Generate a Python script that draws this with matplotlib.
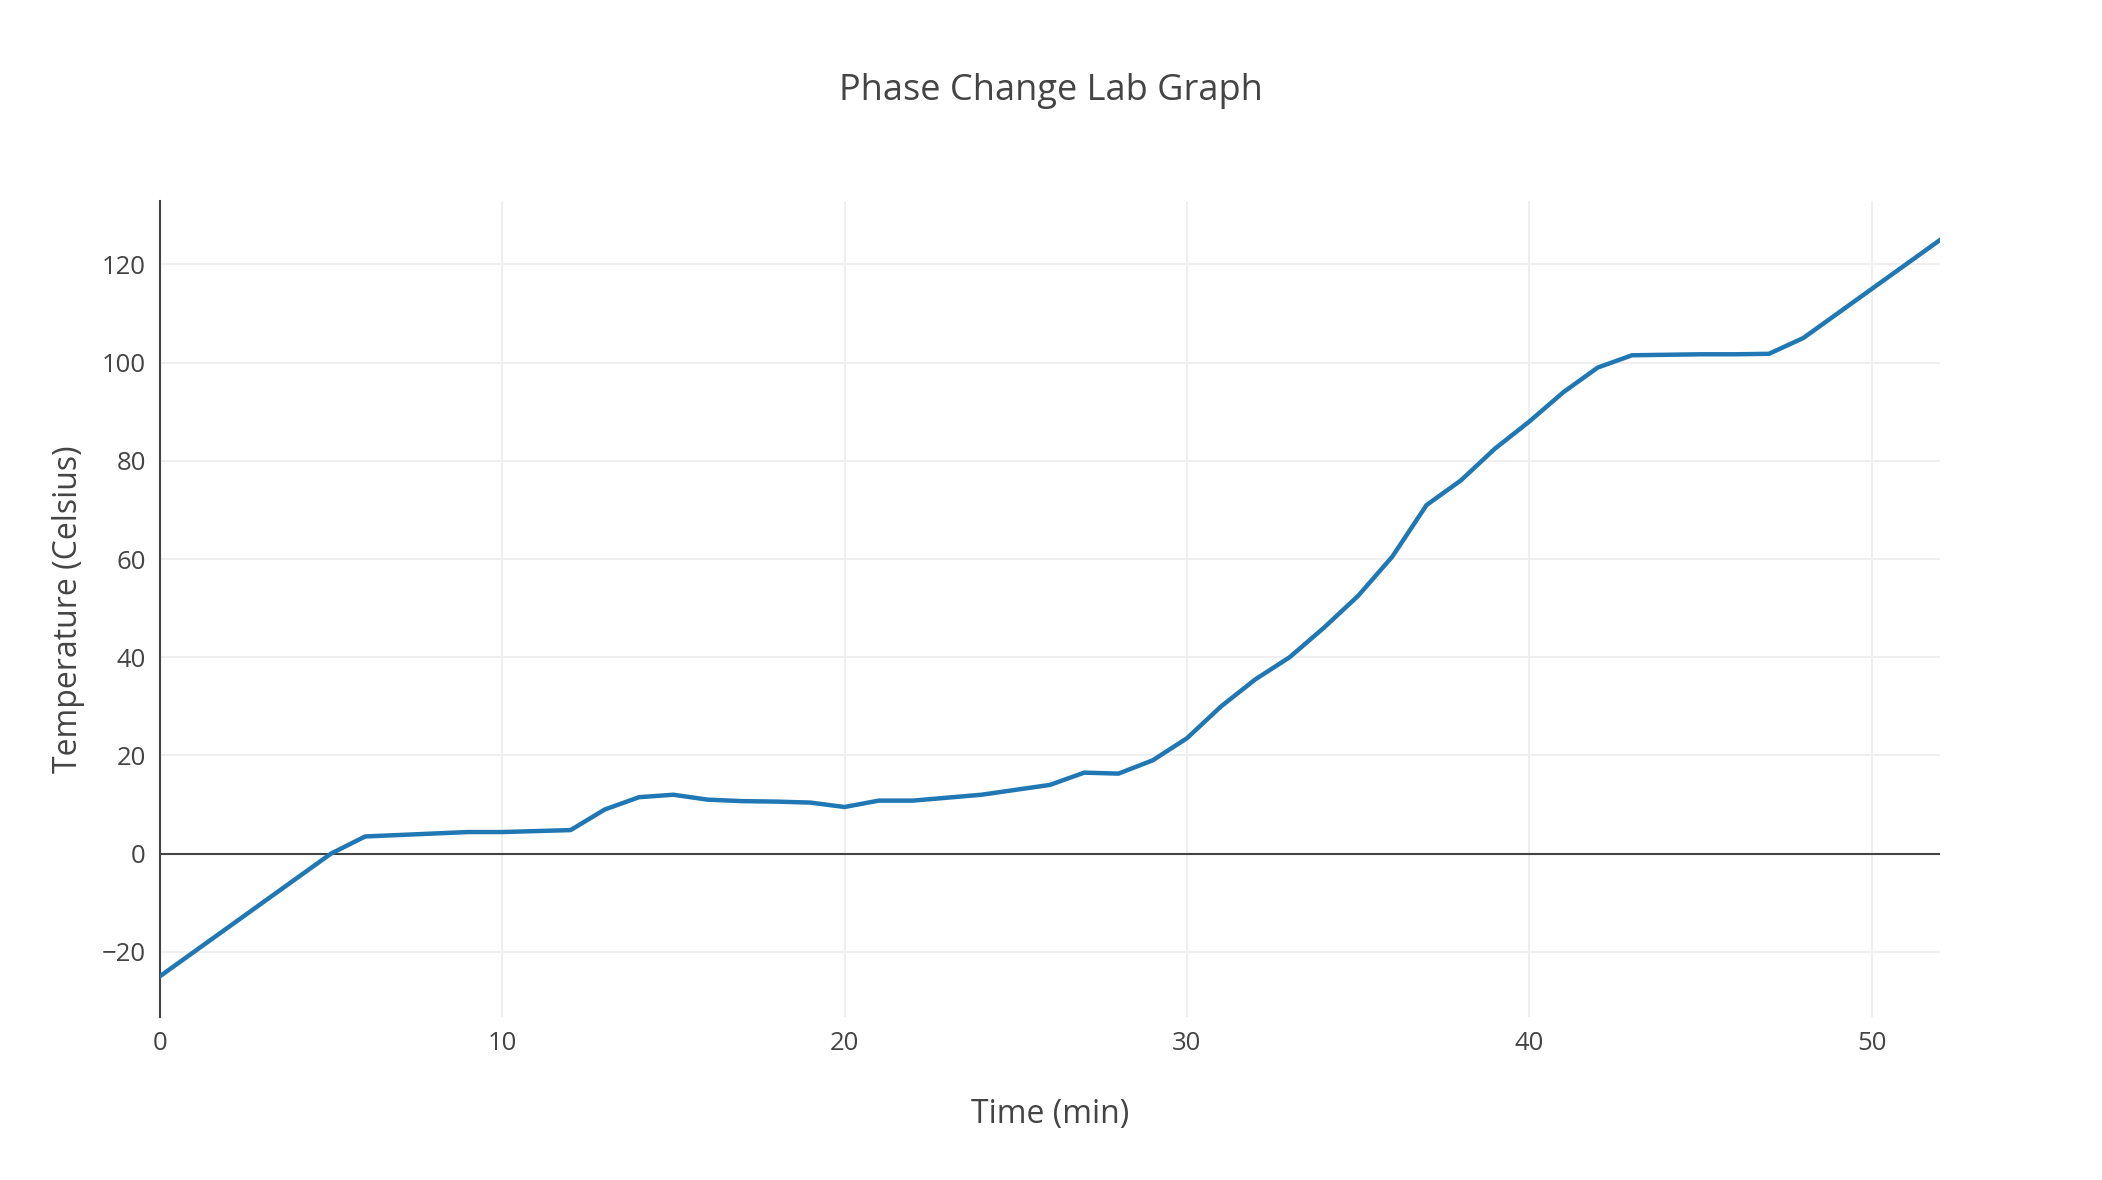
import numpy as np
import matplotlib
matplotlib.use("Agg")
import matplotlib.pyplot as plt

time_min = list(range(0, 53))
temp_c = [-25, -20, -15, -10, -5, 0, 3.5, 3.8, 4.1, 4.4, 4.4, 4.6, 4.8, 9, 11.5, 12,
          11, 10.7, 10.6, 10.4, 9.5, 10.8, 10.8, 11.4, 12, 13, 14, 16.5, 16.3, 19,
          23.5, 30, 35.5, 40, 46, 52.5, 60.5, 71, 76, 82.5, 88, 94, 99, 101.5,
          101.6, 101.7, 101.7, 101.8, 105, 110, 115, 120, 125]

plt.rcParams['font.family'] = ['Open Sans', 'DejaVu Sans']
fig = plt.figure(figsize=(21.02, 11.80), dpi=100)
ax = fig.add_axes([0.076, 0.138, 0.847, 0.692])
ax.plot(time_min, temp_c, color="#1f77b4", lw=3.2, zorder=3)
ax.axhline(0, color="#444444", lw=1.5, zorder=2)
ax.set_xlim(0, 52)
ax.set_ylim(-33.3, 133)
ax.set_xticks([0, 10, 20, 30, 40, 50])
ax.set_yticks([-20, 0, 20, 40, 60, 80, 100, 120])
ax.set_yticklabels(["\u221220", "0", "20", "40", "60", "80", "100", "120"])
ax.grid(color="#eeeeee", lw=1.3, zorder=0)
for s in ["top", "right", "bottom"]:
    ax.spines[s].set_visible(False)
ax.spines["left"].set_color("#444444")
ax.spines["left"].set_linewidth(1.5)
ax.tick_params(length=0, labelsize=18.5, colors="#444444", pad=10)
ax.set_xlabel("Time (min)", fontsize=23, color="#444444", labelpad=30)
ax.set_ylabel("Temperature (Celsius)", fontsize=23, color="#444444", labelpad=12)
fig.text(0.5, 0.915, "Phase Change Lab Graph", ha="center", fontsize=26, color="#444444")
fig.savefig("out.png", dpi=100)
